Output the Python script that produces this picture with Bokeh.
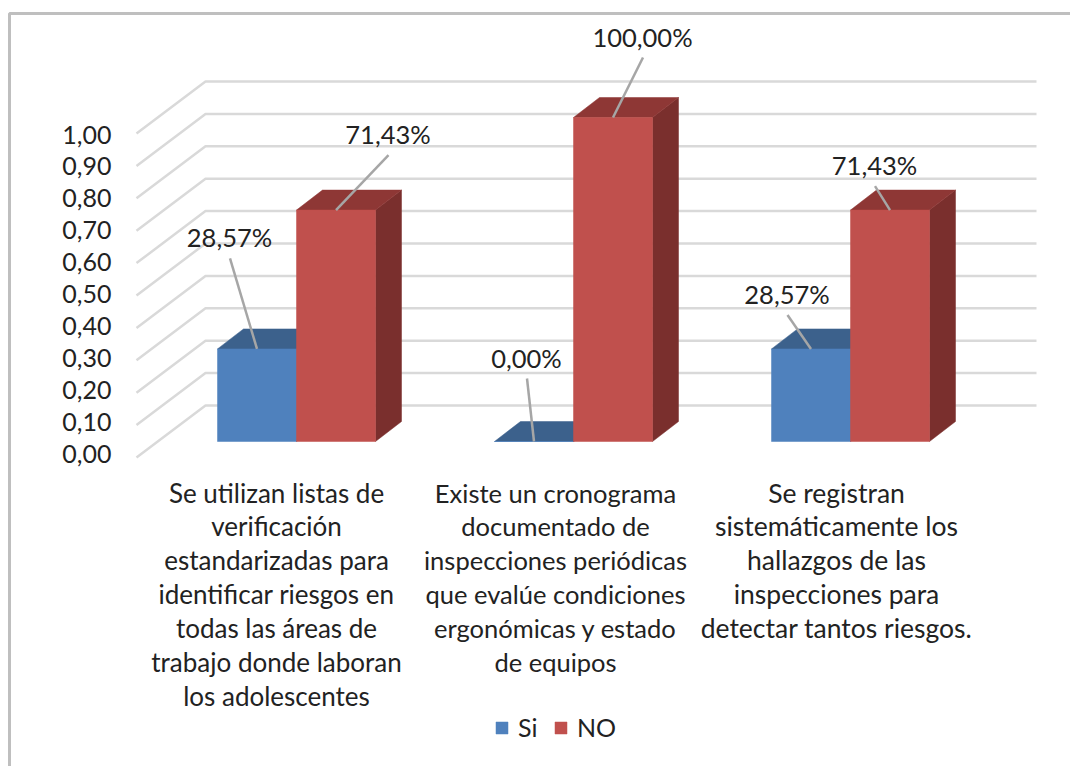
from bokeh.plotting import figure
from bokeh.models import Range1d, LinearAxis, FixedTicker, CustomJSTickFormatter, Legend, LegendItem
from bokeh.core.properties import value
from bokeh.embed import file_html
from bokeh.resources import INLINE

categories = [
    ["Se utilizan listas de", "verificación", "estandarizadas para", "identificar riesgos en",
     "todas las áreas de", "trabajo donde laboran", "los adolescentes"],
    ["Existe un cronograma", "documentado de", "inspecciones periódicas",
     "que evalúe condiciones", "ergonómicas y estado", "de equipos"],
    ["Se registran", "sistemáticamente los", "hallazgos de las", "inspecciones para",
     "detectar tantos riesgos."],
]
si_values = [0.2857, 0.0, 0.2857]
no_values = [0.7143, 1.0, 0.7143]
si_labels = ["28,57%", "0,00%", "28,57%"]
no_labels = ["71,43%", "100,00%", "71,43%"]
y_ticks = [0.0, 0.1, 0.2, 0.3, 0.4, 0.5, 0.6, 0.7, 0.8, 0.9, 1.0]

# label offsets (px) from the top-centre of the bar's front face: right, up
si_label_off = [(-27.5, 111.5), (-7.5, 84), (-24, 55)]
no_label_off = [(52, 76), (29.5, 81), (-15.5, 45)]
cat_label_dx = [-20, -18, -14]
cat_label_size = ["26px", "25.5px", "26.5px"]

FONT = value("Lato")
TEXT = "#222222"
X_UNIT, Y_UNIT = 277.0, 324.0      # px per category step / per 1.0 of value
X0, Y0 = 296.0, 441.0              # reference pixel of category 0, value 0
W, H = 1070, 766
ORIGIN = 0
BAR = 79 / X_UNIT
DX, DY = 26 / X_UNIT, 20 / Y_UNIT  # bar depth


def px(X):
    return (X - X0) / X_UNIT


def py(Y):
    return (Y0 - Y) / Y_UNIT


p = figure(width=W, height=H, output_backend="svg", toolbar_location=None,
           x_axis_type=None, y_axis_type=None,
           x_range=Range1d(px(ORIGIN), px(ORIGIN + W)), y_range=Range1d(py(ORIGIN + H), py(ORIGIN)),
           min_border=0, min_border_left=0, min_border_right=0, min_border_top=0, min_border_bottom=0,
           background_fill_color="white", border_fill_color="white", outline_line_color=None)
p.grid.visible = False

# chart frame
p.line([px(9), px(9), px(ORIGIN + W)], [py(ORIGIN + H), py(13), py(13)], line_color="#bfbfbf", line_width=3)

# wall / floor gridlines, one per tick
grid_front_x, grid_back_x, grid_end_x = px(136), px(205), px(1036)
floor_front, floor_back = py(457), py(405)
for t in y_ticks:
    p.line([grid_front_x, grid_back_x, grid_end_x],
           [t + floor_front, t + floor_back, t + floor_back],
           line_color="#d9d9d9", line_width=2.5)

# y axis tick labels
p.extra_y_ranges["ticks"] = Range1d((453 - (ORIGIN + H)) / 319, (453 - ORIGIN) / 319)
axis = LinearAxis(y_range_name="ticks", ticker=FixedTicker(ticks=y_ticks),
                  formatter=CustomJSTickFormatter(code="return tick.toFixed(2).replace('.', ',')"),
                  axis_line_color=None, major_tick_line_color=None, minor_tick_line_color=None,
                  major_label_text_font="Lato", major_label_text_font_size="25px",
                  major_label_text_color=TEXT, major_label_standoff=5,
                  fixed_location=px(122))
p.add_layout(axis, "left")


def bar(i, v, left, front, top, side=None):
    right = left + BAR
    if side:
        p.patch([right, right + DX, right + DX, right],
                [0, DY, v + DY, v], fill_color=side, line_color=side, line_width=0.5)
    p.patch([left, left + DX, right + DX, right],
            [v, v + DY, v + DY, v], fill_color=top, line_color=top, line_width=0.5)
    return p.quad(left=[left], right=[right], bottom=[0], top=[v], fill_color=front, line_color=front, line_width=0.5)


si_r = no_r = None
for i in range(3):
    si_r = bar(i, si_values[i], i - BAR, "#4f81bd", "#3c618c", "#3c618c")
for i in range(3):
    no_r = bar(i, no_values[i], i, "#c0504d", "#8e3735", "#7a2f2d")


def data_label(x_center, v, text, off):
    ox, oy = off
    lx = x_center + ox / X_UNIT
    ly = v + oy / Y_UNIT
    p.line([lx + 0.5 / X_UNIT, x_center], [ly - 21 / Y_UNIT, v], line_color="#a6a6a6", line_width=2.5)
    p.text([lx], [ly], text=[text], text_font=FONT, text_font_size="25.5px", text_color=TEXT,
           text_align="center", text_baseline="middle")


for i in range(3):
    data_label(i - BAR / 2, si_values[i], si_labels[i], si_label_off[i])
    data_label(i + BAR / 2, no_values[i], no_labels[i], no_label_off[i])

# category labels, one text per wrapped line
for i, lines in enumerate(categories):
    for k, line in enumerate(lines):
        p.text([i + cat_label_dx[i] / X_UNIT], [py(492 + 33.9 * k)], text=[line], text_font=FONT,
               text_font_size=cat_label_size[i], text_color=TEXT, text_align="center", text_baseline="middle")

legend = Legend(items=[LegendItem(label="Si", renderers=[si_r]), LegendItem(label="NO", renderers=[no_r])],
                orientation="horizontal", location=(494, 24),
                border_line_color=None, background_fill_alpha=0,
                glyph_width=15, glyph_height=15, label_standoff=9, spacing=15, padding=0, margin=0,
                label_text_font="Lato", label_text_font_size="25px", label_text_color=TEXT)
p.add_layout(legend)

open("out.html", "w").write(file_html(p, INLINE))
